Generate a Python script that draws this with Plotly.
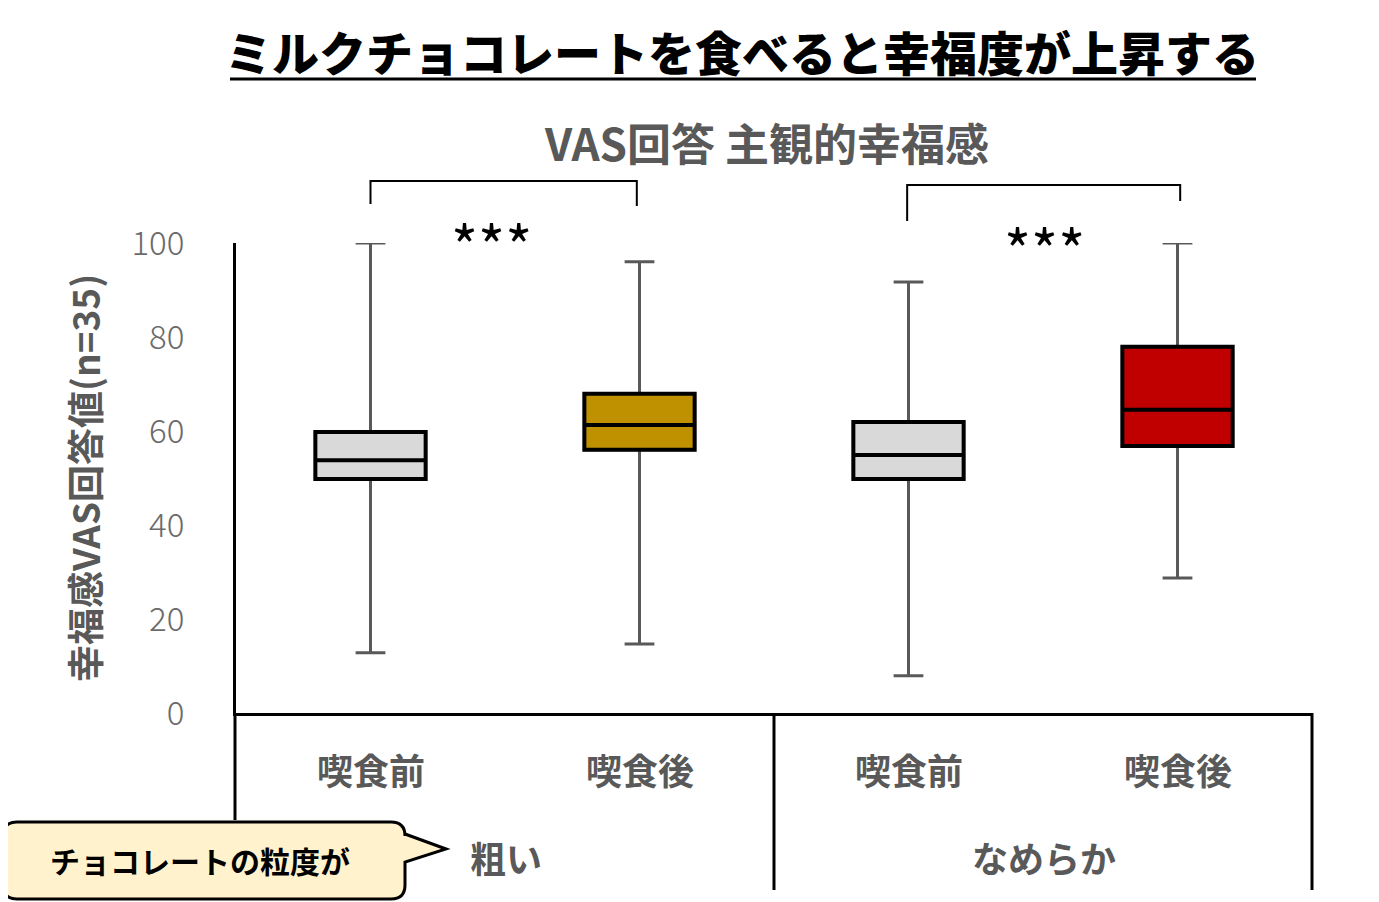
import plotly.graph_objects as go

# ---- data ----
groups = ["粗い", "なめらか"]
timing = ["喫食前", "喫食後", "喫食前", "喫食後"]
x_pos = [0, 1, 2, 3]
q1 = [49.8, 56.0, 49.8, 56.8]
median = [53.8, 61.3, 54.9, 64.5]
q3 = [59.8, 67.9, 61.9, 77.9]
lower = [12.8, 14.7, 7.9, 28.7]
upper = [100.0, 96.0, 91.7, 100.0]
fills = ["#D9D9D9", "#BF9000", "#D9D9D9", "#C00000"]
sig_labels = ["***", "***"]

# page body adds an 8px offset; figure sized so that the plot lands where the reference has it
W, H = 1371, 894
L, T, PW, PH = 228, 235, 1076, 470
R, B = W - L - PW, H - T - PH


def px(x):  # reference-pixel x -> paper
    return (x - 8 - L) / PW


def py(y):  # reference-pixel y -> paper
    return (T + PH - (y - 8)) / PH


FONT = "Noto Sans CJK JP"
GRAY = "#595959"

fig = go.Figure()
for i in range(4):
    fig.add_trace(go.Box(
        x=[x_pos[i]], q1=[q1[i]], median=[median[i]], q3=[q3[i]],
        lowerfence=[lower[i]], upperfence=[upper[i]],
        width=0.41, whiskerwidth=0.27, fillcolor=fills[i],
        line=dict(color=GRAY, width=3), showlegend=False, hoverinfo="skip"))
    fig.add_trace(go.Box(
        x=[x_pos[i]], q1=[q1[i]], median=[median[i]], q3=[q3[i]],
        lowerfence=[q1[i]], upperfence=[q3[i]],
        width=0.41, whiskerwidth=0, fillcolor=fills[i],
        line=dict(color="black", width=4), showlegend=False, hoverinfo="skip"))

shapes = []
annotations = []


def ann(text, x, y, size, color, xref="paper", weight="bold", angle=0, family=FONT):
    annotations.append(dict(text=text, x=x, y=y, xref=xref, yref="paper",
                            xanchor="center", yanchor="middle", showarrow=False,
                            textangle=angle,
                            font=dict(family=family, size=size, color=color, weight=weight)))


# title + underline
ann("ミルクチョコレートを食べると幸福度が上昇する", px(742), py(50), 47, "black",
    weight=900, family="Noto Sans CJK JP Black, Noto Sans CJK JP")
shapes.append(dict(type="line", xref="paper", yref="paper", x0=px(230), x1=px(1256),
                   y0=py(79), y1=py(79), line=dict(color="black", width=3)))
# subtitle
ann("VAS回答 主観的幸福感", px(766), py(142), 44, GRAY)
# y title
ann("幸福感VAS回答値(n=35)", px(84), py(478), 37, GRAY, angle=-90)


# significance brackets
def bracket(xa, xb, top, la, lb):
    return dict(type="path", xref="x", yref="paper",
                path=f"M {xa},{py(la)} L {xa},{py(top)} L {xb},{py(top)} L {xb},{py(lb)}",
                line=dict(color="black", width=2))


shapes.append(bracket(x_pos[0], x_pos[1] - 0.01, 181, 204, 206))
shapes.append(bracket(x_pos[2] - 0.005, x_pos[3] + 0.01, 185, 221, 201))
ann(sig_labels[0], 0.45, py(244), 58, "black", xref="x", weight="normal")
ann(sig_labels[1], 2.505, py(248), 58, "black", xref="x", weight="normal")

# category labels
for i in range(4):
    ann(timing[i], x_pos[i], py(769), 36, GRAY, xref="x")
ann(groups[0], 0.503, py(857), 36, GRAY, xref="x")
ann(groups[1], 2.505, py(857), 36, GRAY, xref="x")

# table lines
for xp, yb in [(px(235), 820), (px(774), 890), (px(1312), 890)]:
    shapes.append(dict(type="line", xref="paper", yref="paper", x0=xp, x1=xp,
                       y0=py(713), y1=py(yb), line=dict(color="black", width=3)))

# callout
x0, x1, y0, y1, r = 3, 405, 822, 899, 14
pts = [
    f"M {px(x0 + r)},{py(y0)}",
    f"L {px(x1 - r)},{py(y0)}",
    f"Q {px(x1)},{py(y0)} {px(x1)},{py(y0 + r)}",
    f"L {px(x1)},{py(834)}",
    f"L {px(446)},{py(849)}",
    f"L {px(x1)},{py(862)}",
    f"L {px(x1)},{py(y1 - r)}",
    f"Q {px(x1)},{py(y1)} {px(x1 - r)},{py(y1)}",
    f"L {px(x0 + r)},{py(y1)}",
    f"Q {px(x0)},{py(y1)} {px(x0)},{py(y1 - r)}",
    f"L {px(x0)},{py(y0 + r)}",
    f"Q {px(x0)},{py(y0)} {px(x0 + r)},{py(y0)} Z",
]
shapes.append(dict(type="path", xref="paper", yref="paper", path=" ".join(pts),
                   fillcolor="#FFF2CC", line=dict(color="black", width=3), layer="above"))
ann("チョコレートの粒度が", px(200), py(860), 30, "black")

fig.update_layout(
    width=W, height=H, margin=dict(l=L, r=R, t=T, b=B),
    paper_bgcolor="white", plot_bgcolor="white", boxmode="overlay",
    shapes=shapes, annotations=annotations, showlegend=False,
    xaxis=dict(range=[-0.5, 3.5], showticklabels=False, showgrid=False, zeroline=False,
               showline=True, linecolor="black", linewidth=3, ticks=""),
    yaxis=dict(range=[0, 100], tickvals=[0, 20, 40, 60, 80, 100], showgrid=False,
               zeroline=False, showline=True, linecolor="black", linewidth=3, ticks="",
               ticklabelstandoff=42,
               tickfont=dict(family=FONT, size=33, color="#6b6b6b", weight=300)),
)

fig.write_html("out.html")
